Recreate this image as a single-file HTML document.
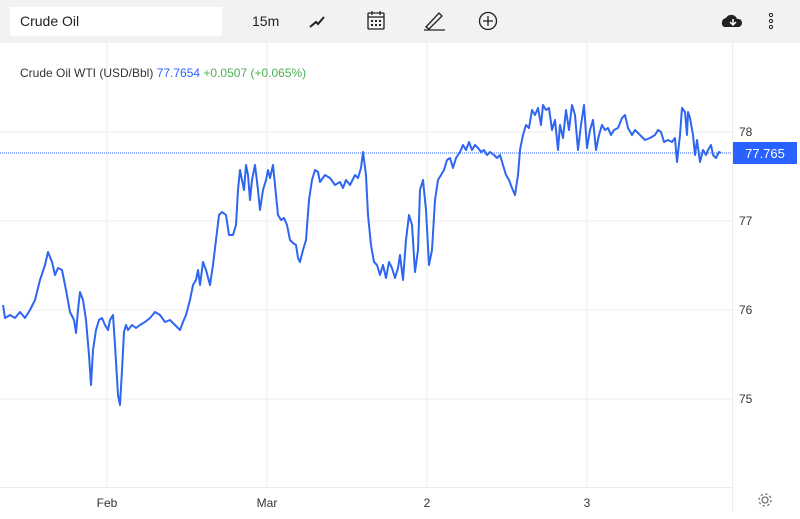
<!DOCTYPE html>
<html><head><style>
body{margin:0;width:800px;height:519px;background:#fff;font-family:"Liberation Sans",sans-serif;overflow:hidden;position:relative}
.tb{position:absolute;left:0;top:0;width:800px;height:43px;background:#f2f2f2}
.search{position:absolute;left:10px;top:7px;width:212px;height:29px;background:#fff;font-size:14px;line-height:29px;padding-left:10px;box-sizing:border-box;color:#222}
.t{position:absolute;font-size:14px;color:#222}
</style></head><body>
<div class="tb">
<div class="search">Crude Oil</div>
<div class="t" style="left:252px;top:13px">15m</div>
</div>
<svg width="800" height="519" style="position:absolute;left:0;top:0">
<g stroke="#222" fill="none" stroke-width="1.3">
<polyline points="310,27 316,22 318,24 324,17" stroke-width="2"/>
<rect x="368" y="13" width="16" height="16" rx="1"/>
<line x1="368" y1="17" x2="384" y2="17"/>
<line x1="372" y1="11" x2="372" y2="15"/><line x1="380" y1="11" x2="380" y2="15"/>
<path d="M426 27 L439 13 L442 16 L429 29 Z M424 30 L445 30"/>
<circle cx="488" cy="21" r="8.5"/>
<path d="M488 16 V26 M483 21 H493"/>
</g>
<g fill="#222"><rect x="371" y="20" width="2" height="2"/><rect x="375" y="20" width="2" height="2"/><rect x="379" y="20" width="2" height="2"/><rect x="371" y="24" width="2" height="2"/><rect x="375" y="24" width="2" height="2"/><rect x="379" y="24" width="2" height="2"/>
<path d="M724 27 a5 5 0 0 1 2 -9 a6 6 0 0 1 11 1 a4 4 0 0 1 5 4 a4 4 0 0 1 -4 4 Z"/>
</g>
<path d="M733 19 v5 m-3 -2 l3 3 l3 -3" stroke="#fff" stroke-width="1.5" fill="none"/>
<g fill="none" stroke="#222" stroke-width="1"><circle cx="771" cy="15" r="1.6"/><circle cx="771" cy="21" r="1.6"/><circle cx="771" cy="27" r="1.6"/></g>
<g stroke="#ececec" stroke-width="1">
<line x1="107" y1="43" x2="107" y2="487"/><line x1="267" y1="43" x2="267" y2="487"/>
<line x1="427" y1="43" x2="427" y2="487"/><line x1="587" y1="43" x2="587" y2="487"/>
<line x1="0" y1="132" x2="732" y2="132"/><line x1="0" y1="221" x2="732" y2="221"/>
<line x1="0" y1="310" x2="732" y2="310"/><line x1="0" y1="399" x2="732" y2="399"/>
<line x1="0" y1="487.5" x2="732" y2="487.5"/>
<line x1="732.5" y1="43" x2="732.5" y2="512"/>
</g>
<line x1="0" y1="153" x2="732" y2="153" stroke="#2962ff" stroke-width="1" stroke-dasharray="1,1"/>
<polyline fill="none" stroke="#2e66f0" stroke-width="2" stroke-linejoin="round" points="3,305 5,318 10,315 15,318 20,312 25,318 30,310 35,300 40,280 45,265 48,252 52,262 55,275 58,268 62,270 66,290 70,312 74,320 76,333 78,310 80,292 83,300 86,320 89,355 91,385 93,350 96,330 99,320 102,318 105,325 108,330 110,320 113,315 115,345 118,395 120,405 122,370 124,332 126,325 128,330 132,325 136,328 140,325 145,322 150,318 155,312 160,315 165,322 170,320 175,325 180,330 183,322 186,315 190,300 193,285 196,280 198,270 200,285 203,262 206,270 210,285 213,265 216,240 219,215 222,212 226,215 229,235 233,235 236,225 238,190 240,170 242,180 244,190 246,165 248,175 250,200 252,180 255,165 258,190 260,210 263,190 266,180 268,170 270,178 273,165 275,185 278,215 281,220 284,218 287,225 290,240 293,243 296,245 298,258 300,262 303,250 306,240 309,200 312,180 315,170 318,172 320,182 325,175 330,178 335,185 340,182 343,188 346,180 350,185 355,175 358,178 361,168 363,152 366,175 368,215 371,245 374,262 377,265 380,275 383,265 386,278 389,262 392,268 395,278 398,268 400,255 403,280 406,240 409,215 412,225 415,272 418,250 420,190 423,180 426,210 429,265 432,250 435,200 438,180 441,175 444,170 447,160 450,158 453,168 456,158 460,152 463,145 466,150 469,142 472,150 475,145 478,148 481,152 484,150 487,155 490,152 494,155 497,158 500,155 503,165 506,175 509,180 512,188 515,195 518,175 520,150 523,135 526,125 529,128 532,110 535,115 538,108 541,125 543,105 546,110 549,108 552,130 555,120 558,150 560,125 563,138 566,110 569,130 572,105 575,115 578,150 581,125 584,105 587,148 590,130 593,120 596,150 599,135 602,125 605,130 608,128 611,135 614,130 618,128 622,118 625,115 628,128 632,135 635,130 640,135 645,140 650,138 655,135 658,130 661,132 664,142 668,140 672,142 675,138 677,162 680,135 682,108 685,112 687,135 688,112 690,118 693,135 695,155 697,140 700,162 703,150 706,155 708,150 711,145 713,155 716,158 719,152 721,153"/>
<rect x="733" y="142" width="64" height="22" fill="#2962ff"/>
<text x="765" y="158" fill="#fff" font-size="13" text-anchor="middle" font-family="Liberation Sans">77.765</text>
<g font-family="Liberation Sans" font-size="12" fill="#333">
<text x="739" y="136">78</text><text x="739" y="225">77</text><text x="739" y="314">76</text><text x="739" y="403">75</text>
<text x="107" y="507" text-anchor="middle">Feb</text><text x="267" y="507" text-anchor="middle">Mar</text>
<text x="427" y="507" text-anchor="middle">2</text><text x="587" y="507" text-anchor="middle">3</text>
</g>
<text x="20" y="77" font-family="Liberation Sans" font-size="12"><tspan fill="#333">Crude Oil WTI (USD/Bbl) </tspan><tspan fill="#2962ff">77.7654</tspan><tspan fill="#4caf50">  +0.0507 (+0.065%)</tspan></text>
<g fill="none" stroke="#777" stroke-width="1.3"><circle cx="765" cy="500" r="3"/><circle cx="765" cy="500" r="6" stroke-dasharray="2.4,2.3"/></g>
</svg>
</body></html>
